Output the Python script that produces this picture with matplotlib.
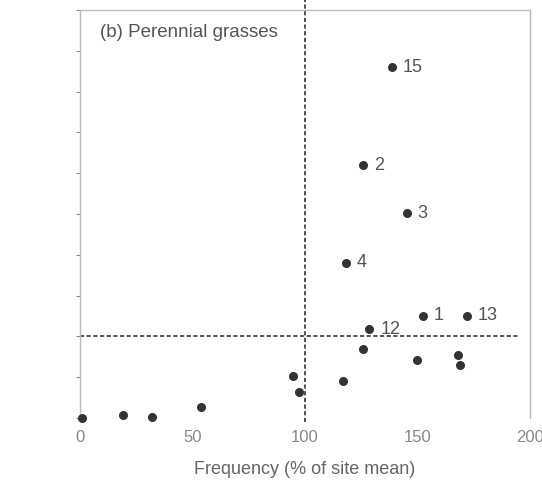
import matplotlib
matplotlib.use("Agg")
import matplotlib.pyplot as plt

plt.rcParams["font.family"] = ["Liberation Sans", "DejaVu Sans"]

# Data
x_vals = [1, 19, 32, 53.6, 94.5, 97.3, 116.7, 125.9, 149.9, 167.9, 169.0,
          128.6, 152.3, 172.0, 118.1, 145.2, 125.6, 138.5]
y_vals = [0.0, 0.07, 0.02, 0.28, 1.03, 0.64, 0.91, 1.68, 1.42, 1.54, 1.30,
          2.18, 2.50, 2.50, 3.80, 5.02, 6.19, 8.60]
labels = ["", "", "", "", "", "", "", "", "", "", "",
          "12", "1", "13", "4", "3", "2", "15"]
x_ticks = [0, 50, 100, 150, 200]
y_ticks = list(range(0, 11))
x_mean = 100
y_mean = 2

fig = plt.figure(figsize=(5.42, 4.88), dpi=100)
ax = fig.add_axes([80/542, 1-418/488, 450/542, 408/488])

ax.scatter(x_vals, y_vals, s=30, color="#333333", zorder=3, clip_on=False)
for x, y, t in zip(x_vals, y_vals, labels):
    if t:
        ax.annotate(t, (x, y), xytext=(8, 0), textcoords="offset points",
                    va="center", ha="left", fontsize=13, color="#555555")

ax.plot([x_mean, x_mean], [-0.1, 10.25], ls=(0, (2.5, 1.5)), color="#333333",
        lw=1.2, clip_on=False, zorder=2)
ax.plot([0, 195], [y_mean, y_mean], ls=(0, (2.5, 1.5)), color="#333333",
        lw=1.2, clip_on=False, zorder=2)

ax.set_xlim(0, 200)
ax.set_ylim(0, 10)
ax.set_xticks(x_ticks)
ax.set_yticks(y_ticks)
ax.set_yticklabels([])
ax.tick_params(axis="x", length=0, labelsize=12, labelcolor="#888888", pad=9)
ax.tick_params(axis="y", length=3, color="#888888", direction="out")
for s in ax.spines.values():
    s.set_color("#bbbbbb")
    s.set_linewidth(1.0)
ax.spines["bottom"].set_visible(False)

ax.text(0.045, 0.965, "(b) Perennial grasses", transform=ax.transAxes,
        fontsize=13.5, color="#555555", va="top", ha="left")
ax.set_xlabel("Frequency (% of site mean)", fontsize=13, color="#666666", labelpad=11)

fig.savefig("out.png", dpi=100)
